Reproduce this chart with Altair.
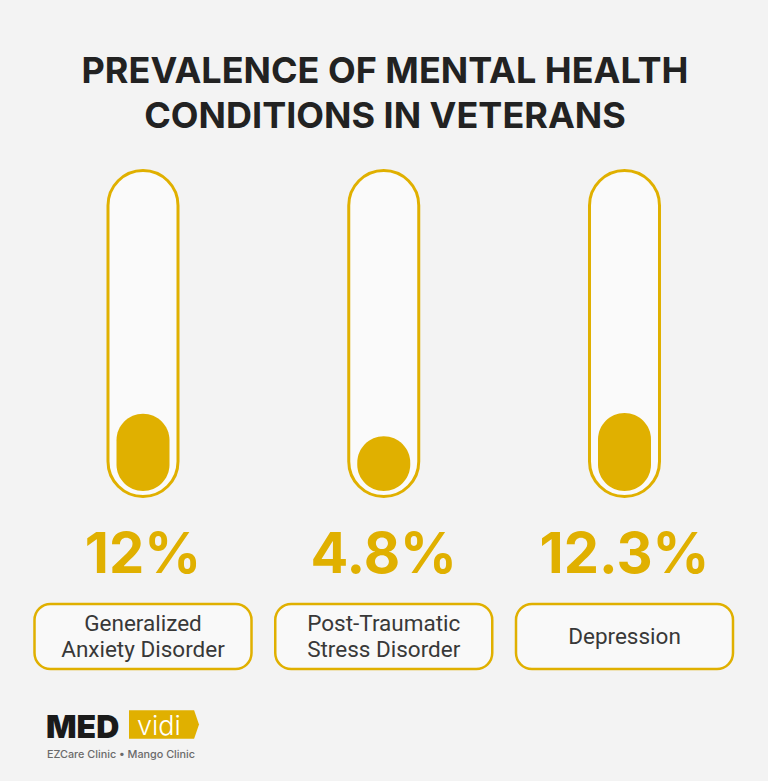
import altair as alt
import pandas as pd

# ---- data ----
conditions = ["Generalized Anxiety Disorder", "Post-Traumatic Stress Disorder", "Depression"]
box_labels = ["Generalized\nAnxiety Disorder", "Post-Traumatic\nStress Disorder", "Depression"]
values = [12, 4.8, 12.3]
pct_labels = [f"{v:g}%" for v in values]
title_text = "PREVALENCE OF MENTAL HEALTH\nCONDITIONS IN VETERANS"
brand_main = "MED"
brand_tag = "vidi"
brand_sub = "EZCare Clinic \u2022 Mango Clinic"

GOLD = "#E0B000"
BG = "#F3F3F3"

df = pd.DataFrame({
    "condition": conditions,
    "box": box_labels,
    "nlines": [s.count("\n") + 1 for s in box_labels],
    "value": values,
    "pct": pct_labels,
})

xenc = alt.X("condition:N", sort=conditions, axis=None,
             scale=alt.Scale(type="point", domain=conditions, range=[143, 624.5], padding=0))

base = alt.Chart(df)

capsule = base.mark_bar(width=70, cornerRadius=35, fill="#FAFAFA", stroke=GOLD, strokeWidth=3).encode(
    x=xenc, y=alt.value(170.5), y2=alt.value(496.5))

fill = base.mark_bar(width=53, cornerRadius=26.5, color=GOLD).encode(
    x=xenc,
    y=alt.Y("value:Q", axis=None, stack=None,
            scale=alt.Scale(domain=[-12.9, 100], range=[491, 141], zero=False, nice=False)),
    y2=alt.value(491))

pct = base.mark_text(font="Inter", fontSize=56, fontWeight="bold", color=GOLD,
                     baseline="alphabetic", align="center").encode(
    x=xenc, y=alt.value(573), text="pct:N")

box = base.mark_bar(width=217, cornerRadius=16, fill="#F9F9F9", stroke=GOLD, strokeWidth=2.5).encode(
    x=xenc, y=alt.value(604), y2=alt.value(669))

txt_style = dict(font="Roboto", fontSize=22.5, color="#383838", lineBreak="\n",
                 lineHeight=26, baseline="middle", align="center")
box_text2 = base.transform_filter("datum.nlines > 1").mark_text(**txt_style).encode(
    x=xenc, y=alt.value(624), text="box:N")
box_text1 = base.transform_filter("datum.nlines == 1").mark_text(**txt_style).encode(
    x=xenc, y=alt.value(637), text="box:N")

tdf = pd.DataFrame({"t": [title_text]})
title = alt.Chart(tdf).mark_text(font="Inter", fontSize=36, fontWeight="bold", color="#222222",
                                 lineBreak="\n", lineHeight=45, baseline="alphabetic", align="center").encode(
    x=alt.value(385), y=alt.value(83), text="t:N")

ldf = pd.DataFrame({"main": [brand_main], "tag": [brand_tag], "sub": [brand_sub]})
logo_main = alt.Chart(ldf).mark_text(font="Inter", fontSize=32, fontWeight=900, color="#1A1A1A",
                                     baseline="alphabetic", align="left").encode(
    x=alt.value(46), y=alt.value(738), text="main:N")
tag_shape = alt.Chart(ldf).mark_point(
    shape="M-1,-0.41 L0.86,-0.41 L1,0 L0.86,0.41 L-1,0.41 Z", size=4900, filled=True,
    color=GOLD, opacity=1, strokeWidth=0).encode(x=alt.value(164), y=alt.value(724.5))
tag_text = alt.Chart(ldf).mark_text(font="Inter", fontSize=27, fontWeight=300, color="white",
                                    baseline="alphabetic", align="left").encode(
    x=alt.value(137), y=alt.value(735), text="tag:N")
sub_text = alt.Chart(ldf).mark_text(font="Inter", fontSize=10.8, fontWeight=500, color="#6A6A6A",
                                    baseline="alphabetic", align="left").encode(
    x=alt.value(47), y=alt.value(758), text="sub:N")

chart = alt.layer(capsule, fill, pct, box, box_text2, box_text1, title,
                  tag_shape, tag_text, logo_main, sub_text).properties(
    width=768, height=781, autosize="none", padding=0, background=BG
).configure_view(stroke=None)

chart.save("out.html", embed_options={"renderer": "svg", "actions": False})
